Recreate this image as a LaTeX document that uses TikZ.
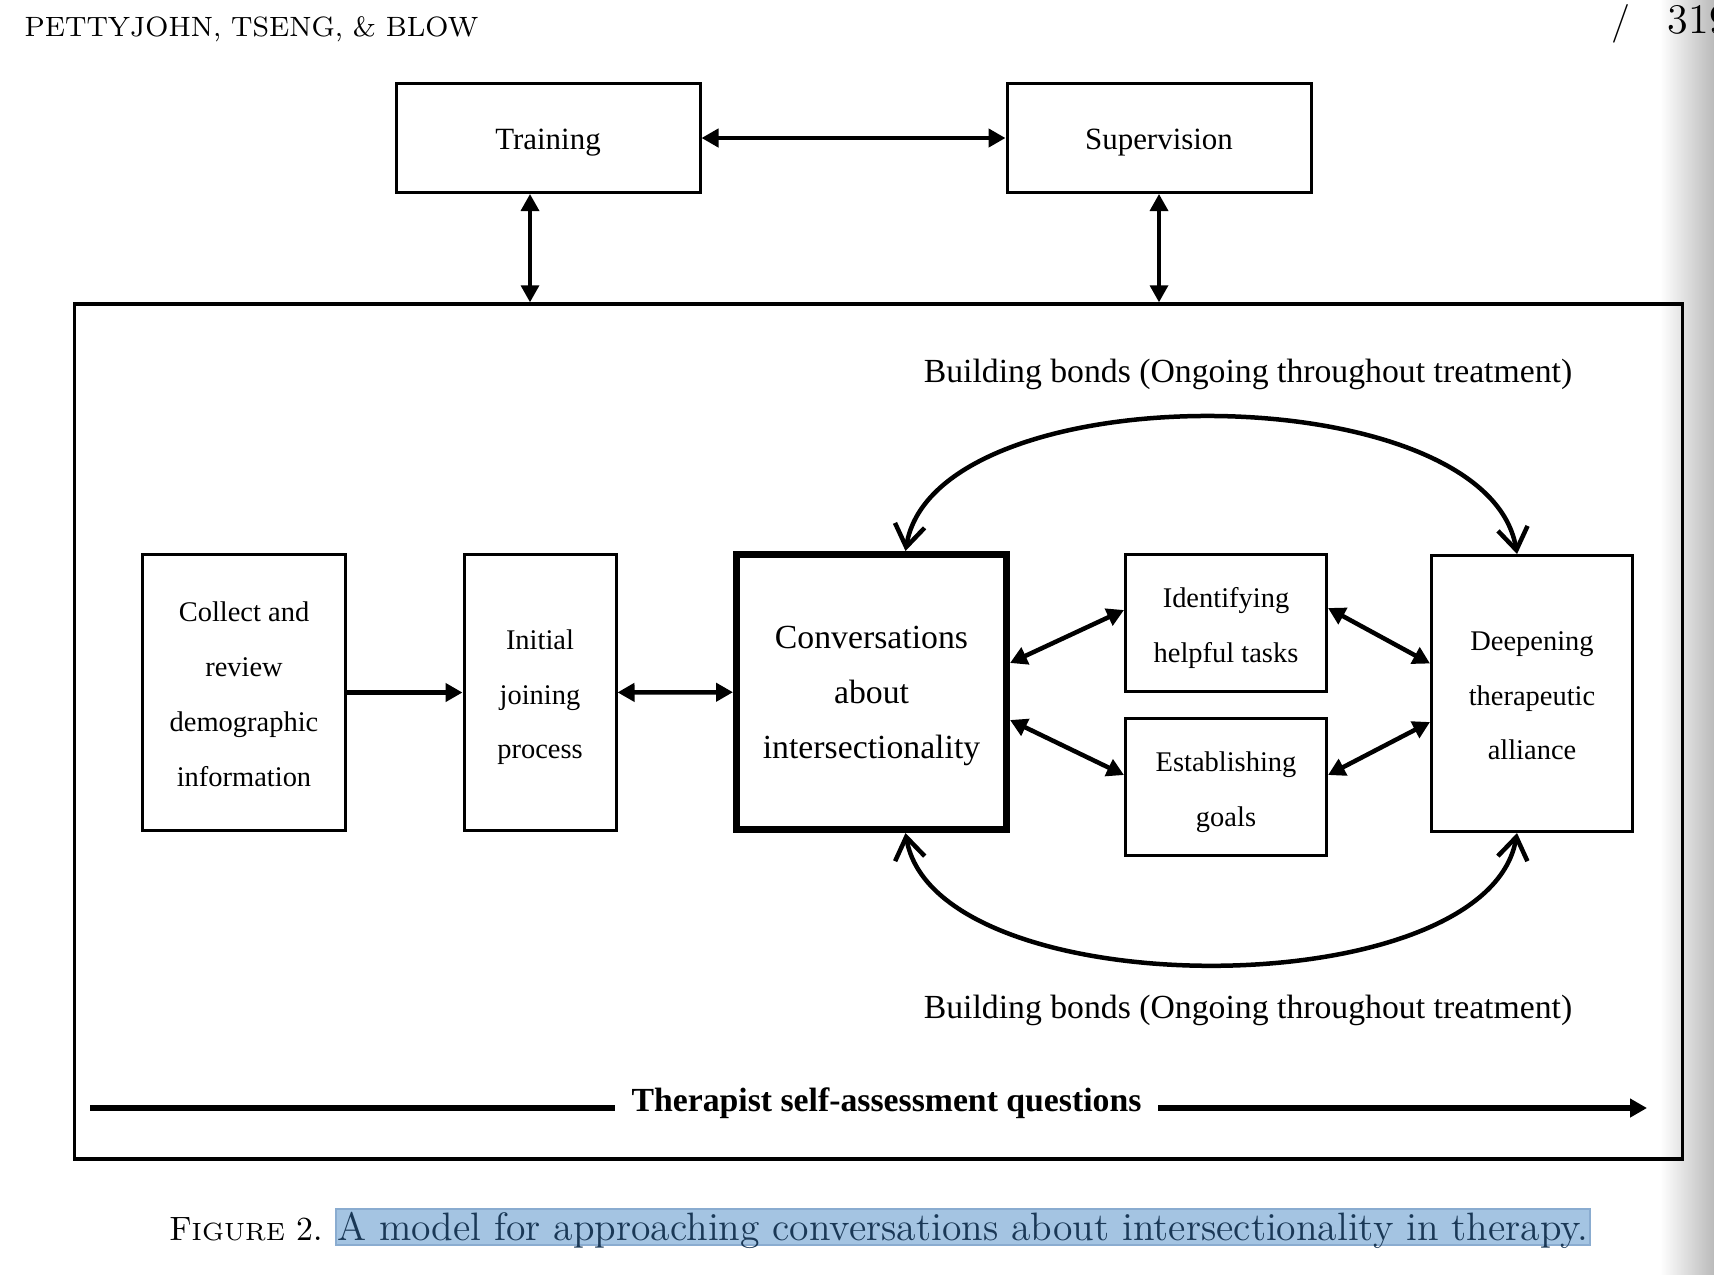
\documentclass[tikz,border=0pt]{standalone}
\usepackage{fontspec}
\usetikzlibrary{arrows.meta}
\newfontfamily\timesfont{Liberation Serif}
\definecolor{hilite}{RGB}{164,196,226}
\definecolor{hiliteedge}{RGB}{138,172,208}
\definecolor{hilitetext}{RGB}{26,56,86}

\begin{document}
\begin{tikzpicture}[x=0.1mm,y=-0.1mm,
        every node/.style={inner sep=0pt},
        >={Triangle[length=1.7mm,width=1.8mm]},
        textrows/.style={text height=#1,text depth=0pt},
        box/.style={draw,line width=0.3mm,align=center,
            font=\timesfont\fontsize{8.1}{15.6}\selectfont},
        topbox/.style={box,minimum width=30.4mm,minimum height=10.9mm,textrows=6.6pt,
            font=\timesfont\fontsize{8.8}{10}\selectfont},
        bigbox/.style={box,line width=0.7mm,
            font=\timesfont\fontsize{9.6}{15.6}\selectfont},
        link/.style={line width=0.45mm,<->},
        bond/.style={line width=0.45mm,
            {Straight Barb[length=2.2mm,width=3mm]}-{Straight Barb[length=2.2mm,width=3mm]}},
        bondlabel/.style={anchor=base,font=\timesfont\fontsize{9.6}{11}\selectfont}
    ]
        % Page
        \fill[white] (0,0) rectangle (1714,1274);
        \shade[left color=white,right color=black!27] (1660,0) rectangle (1714,1274);
        \useasboundingbox (0,0) rectangle (1714,1274);

        % Running head
        \node[anchor=base west,font=\fontsize{7.95}{10}\selectfont] (runhead) at (24,36) {PETTYJOHN, TSENG, \& BLOW};
        \node[anchor=base,font=\fontsize{11}{12}\selectfont] (slash) at (1621,33) {/};
        \node[anchor=base west,font=\fontsize{12}{13}\selectfont] (pagenum) at (1667,33) {319};

        % Training and supervision
        \node[topbox] (train) at (548,138) {Training};
        \node[topbox] (super) at (1159,138) {Supervision};
        \draw[link] (train) -- (super);

        % Outer frame
        \node[draw,line width=0.35mm,minimum width=160.8mm,minimum height=85.5mm] (frame) at (878.5,731.5) {};
        \coordinate (tdrop) at ([xshift=-1.8mm]train.south);
        \draw[link,line width=0.35mm] (tdrop) -- (tdrop |- frame.north);
        \draw[link,line width=0.35mm] (super.south) -- (super.south |- frame.north);

        % Process boxes
        \node[box,textrows=53.4pt,minimum width=20.3mm,minimum height=27.6mm] (collect) at (244,692.5) {Collect and\\review\\demographic\\information};
        \node[box,textrows=37.8pt,minimum width=15.2mm,minimum height=27.6mm] (initial) at (540,692.5) {Initial\\joining\\process};
        \node[bigbox,textrows=37.8pt,minimum width=27mm,minimum height=27.5mm] (conv) at (871.5,692) {Conversations\\about\\intersectionality};
        \node[box,textrows=22.2pt,minimum width=20.1mm,minimum height=13.7mm] (tasks) at (1226,623) {Identifying\\helpful tasks};
        \node[box,textrows=22.2pt,minimum width=20.1mm,minimum height=13.7mm] (goals) at (1226,787) {Establishing\\goals};
        \node[box,textrows=37.8pt,minimum width=20.1mm,minimum height=27.6mm] (deep) at (1532,693.5) {Deepening\\therapeutic\\alliance};

        \draw[link,<-] (initial) -- (collect);
        \draw[link] (initial) -- (conv);
        \draw[link] ([yshift=2.9mm]conv.east) -- ([yshift=1.3mm]tasks.west);
        \draw[link] ([yshift=-2.8mm]conv.east) -- ([yshift=1.2mm]goals.west);
        \draw[link] ([yshift=1.5mm]tasks.east) -- ([yshift=3mm]deep.west);
        \draw[link] ([yshift=1.2mm]goals.east) -- ([yshift=-2.85mm]deep.west);

        % Building bonds
        \draw[bond] ([xshift=3.4mm]conv.north) .. controls +(30,-180) and +(-30,-180) .. ([xshift=-1.5mm]deep.north);
        \draw[bond] ([xshift=3.4mm]conv.south) .. controls +(30,175) and +(-30,175) .. ([xshift=-1.5mm]deep.south);
        \node[bondlabel] (bondtop) at (1248,382) {Building bonds (Ongoing throughout treatment)};
        \node[bondlabel] (bondbot) at (1248,1018) {Building bonds (Ongoing throughout treatment)};

        % Self-assessment line
        \coordinate (qstart) at (90,1108);
        \coordinate (qend) at (1647,1108);
        \node[anchor=base,inner xsep=1.6mm,font=\timesfont\bfseries\fontsize{9.6}{11}\selectfont] (questions) at (886.5,1111) {Therapist self-assessment questions};
        \draw[line width=0.6mm] (qstart) -- (questions.west |- qstart);
        \draw[line width=0.6mm,->] (questions.east |- qstart) -- (qend);

        % Caption
        \node[anchor=base west] (figlabel) at (169,1240)
            {\fontsize{9.6}{12}\selectfont F\fontsize{7.1}{12}\selectfont IGURE\fontsize{9.6}{12}\selectfont\ 2.};
        \node[anchor=base west,fill=hilite,draw=hiliteedge,line width=0.2mm,inner xsep=0.1mm,
            text height=3.1mm,text depth=0.5mm,text=hilitetext,font=\fontsize{11.28}{12}\selectfont]
            (caption) at (335,1240) {A model for approaching conversations about intersectionality in therapy.};
\end{tikzpicture}
\end{document}
